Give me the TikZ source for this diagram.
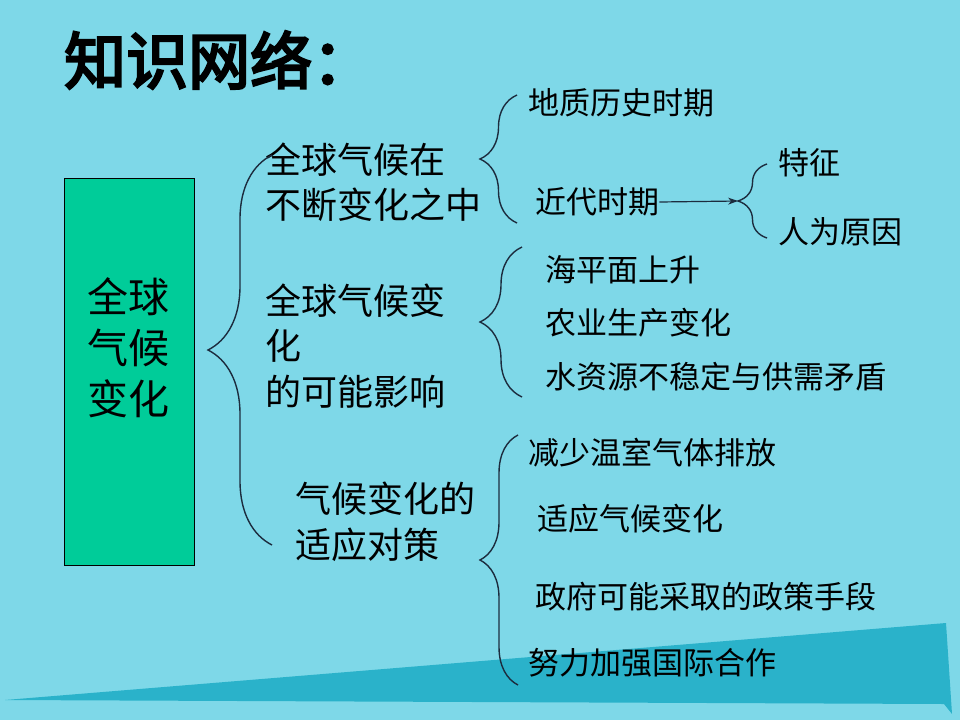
\documentclass[tikz,border=0pt]{standalone}
\usepackage{fontspec}
\usepackage{tikz}
\usetikzlibrary{positioning, arrows.meta, decorations.pathreplacing}
\newfontfamily\cjk{Noto Sans CJK SC}
\newfontfamily\cjktitle[FakeBold=4]{Noto Sans CJK SC}
\definecolor{bgcyan}{RGB}{126,216,232}
\definecolor{bandcyan}{RGB}{42,178,202}
\definecolor{boxgreen}{RGB}{0,204,153}
\definecolor{linecol}{RGB}{28,44,62}

\begin{document}
\begin{tikzpicture}[x=1pt, y=-1pt, >={Stealth[length=10pt, width=7pt]},
  lvltwo/.style={anchor=west, inner sep=0pt, align=left, font=\cjk\fontsize{36}{45.5}\selectfont},
  lvlthree/.style={anchor=west, inner sep=0pt, font=\cjk\fontsize{31}{36}\selectfont},
  curly/.style={draw=linecol, line width=1.4pt, decorate, decoration={brace, amplitude=#1}}]
  \useasboundingbox (0,0) rectangle (960,720);
  \fill[bgcyan] (0,0) rectangle (960,720);
  \fill[bandcyan] (5,700) -- (946,623) -- (952,714) -- (944,704) -- cycle;
  \node[anchor=west, inner sep=0pt, font=\cjktitle\fontsize{62}{62}\selectfont] (title) at (64,60) {知识网络：};
  \node[draw=black, line width=0.8pt, fill=boxgreen, minimum width=130pt, minimum height=387pt, inner sep=0pt] (main) at (129,371.5) {};
  \node[inner sep=0pt, align=center, font=\cjk\fontsize{41}{51}\selectfont] (maintxt) at (128,348) {全球\\气候\\变化};
  \node[lvltwo] (change) at (265,182) {全球气候在\\不断变化之中};
  \node[lvltwo] (impact) at (265,346) {全球气候变\\化\\的可能影响};
  \node[lvltwo] (adapt) at (295,522) {气候变化的\\适应对策};
  \node[lvlthree] (geo) at (528,103) {地质历史时期};
  \node[lvlthree] (modern) at (535,202) {近代时期};
  \node[lvlthree] (feature) at (778,163) {特征};
  \node[lvlthree] (human) at (778,232) {人为原因};
  \node[lvlthree] (sea) at (545,270) {海平面上升};
  \node[lvlthree] (farm) at (545,323) {农业生产变化};
  \node[lvlthree] (water) at (545,377) {水资源不稳定与供需矛盾};
  \node[lvlthree] (reduce) at (528,453) {减少温室气体排放};
  \node[lvlthree] (adjust) at (537,519) {适应气候变化};
  \node[lvlthree] (policy) at (535,597) {政府可能采取的政策手段};
  \node[lvlthree] (coop) at (528,663) {努力加强国际合作};
  \coordinate (tip4) at (738,201);
  \draw[curly=64pt] (272,545) -- (272,155);
  \draw[curly=37pt] (517,223) -- (517,95);
  \draw[curly=42pt] (522,397) -- (522,247);
  \draw[curly=38pt] (518,685) -- (518,435);
  \draw[curly=29pt] (767,238) -- (767,164);
  \draw[->, draw=linecol, line width=1.2pt] (modern.east) -- (tip4);
\end{tikzpicture}
\end{document}
